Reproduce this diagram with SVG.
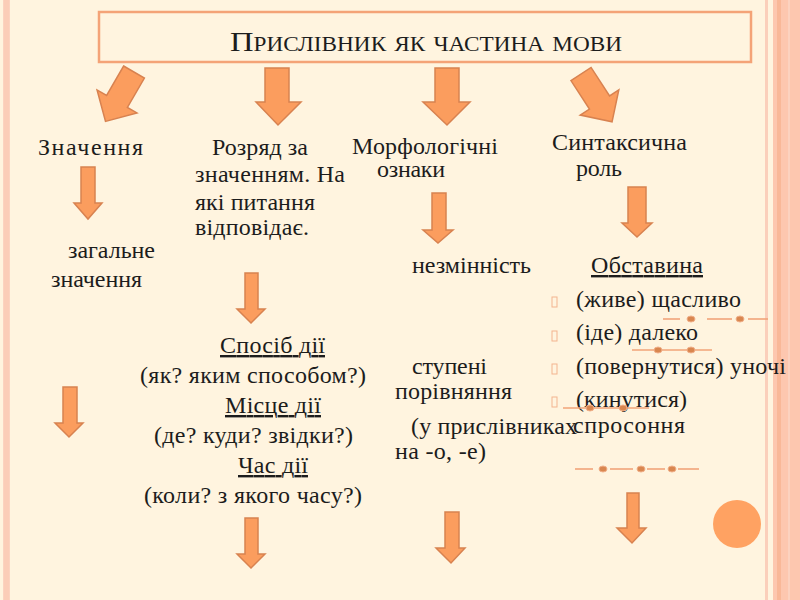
<svg xmlns="http://www.w3.org/2000/svg" width="800" height="600" viewBox="0 0 800 600">
<defs>
<style>
.t{font-family:"Liberation Serif","Times New Roman",serif;font-size:24px;fill:#1c1c1c}
.u{text-decoration:underline}
.arr{fill:#FB9D5E;stroke:#D88250;stroke-width:1.5;stroke-linejoin:miter}
.dl{stroke:#F2A479;stroke-width:1.6}
.dot{fill:#D9864F;stroke:#F0B08A;stroke-width:1}
.bul{fill:none;stroke:#F3B48F;stroke-width:1}
</style>
</defs>
<rect x="0" y="0" width="800" height="600" fill="#FFF4DF"/>
<rect x="3" y="0" width="7" height="600" fill="#FCD3C0"/>
<rect x="4" y="0" width="5" height="600" fill="#FBCDB8"/>
<rect x="765" y="0" width="3" height="600" fill="#FBCFBB"/>
<rect x="773" y="0" width="27" height="600" fill="#FDC7AF"/>
<rect x="777" y="0" width="4" height="600" fill="#F9B898"/>
<rect x="788" y="0" width="2" height="600" fill="#FCD2BF"/>

<g id="title">
<rect x="99" y="12" width="652" height="50" fill="#FFF4DF" stroke="#F4A377" stroke-width="2.5"/>
<text x="230" y="51" font-family="Liberation Serif, serif" font-size="28" fill="#1c1c1c" style="font-variant:small-caps" textLength="392" lengthAdjust="spacingAndGlyphs">Прислівник як частина мови</text>
</g>

<g id="connectors">
<path class="arr" d="M-12,0 H12 V34 H23 L0,57 L-23,34 H-12 Z" transform="translate(134,72) rotate(30)"/>
<path class="arr" d="M265,68 H289 V102 H301 L278,125 L256,102 H265 Z"/>
<path class="arr" d="M435,68 H459 V102 H470 L447,125 L423,102 H435 Z"/>
<path class="arr" d="M-12,0 H12 V34 H23 L0,57 L-23,34 H-12 Z" transform="translate(581,74) rotate(-33)"/>
<path class="arr" d="M81,167 H95 V203 H102 L88,219 L74,203 H81 Z"/>
<path class="arr" d="M245,273 H258 V309 H265 L251,323 L237,309 H245 Z"/>
<path class="arr" d="M63,387 H77 V423 H83 L69,437 L55,423 H63 Z"/>
<path class="arr" d="M245,518 H258 V554 H265 L251,568 L237,554 H245 Z"/>
<path class="arr" d="M432,193 H446 V230 H453 L438,243 L423,230 H432 Z"/>
<path class="arr" d="M628,187 H646 V223 H652 L637,237 L622,223 H628 Z"/>
<path class="arr" d="M445,512 H459 V548 H465 L451,563 L436,548 H445 Z"/>
<path class="arr" d="M627,493 H639 V528 H646 L632,543 L617,528 H627 Z"/>
</g>

<g id="znachennia">
<text class="t" x="38" y="155" textLength="105">Значення</text>
<text class="t" x="68" y="258" textLength="87">загальне</text>
<text class="t" x="51" y="287" textLength="91">значення</text>
</g>

<g id="rozriad">
<text class="t" x="212" y="155" textLength="96">Розряд за</text>
<text class="t" x="195" y="182" textLength="150">значенням. На</text>
<text class="t" x="195" y="210" textLength="120">які питання</text>
<text class="t" x="195" y="235" textLength="114">відповідає.</text>
</g>

<g id="rozriad-details">
<text class="t u" x="220" y="353" textLength="105">Спосіб дії</text>
<text class="t" x="140" y="383" textLength="226">(як? яким способом?)</text>
<text class="t u" x="225" y="413" textLength="96">Місце дії</text>
<text class="t" x="154" y="443" textLength="199">(де? куди? звідки?)</text>
<text class="t u" x="238" y="473" textLength="70">Час дії</text>
<text class="t" x="144" y="503" textLength="218">(коли? з якого часу?)</text>
</g>

<g id="morf">
<text class="t" x="352" y="154" textLength="146">Морфологічні</text>
<text class="t" x="377" y="177" textLength="68">ознаки</text>
<text class="t" x="412" y="273" textLength="119">незмінність</text>
<text class="t" x="412" y="374" textLength="75">ступені</text>
<text class="t" x="395" y="399" textLength="117">порівняння</text>
<text class="t" x="411" y="434" textLength="166">(у прислівниках</text>
<text class="t" x="395" y="459" textLength="91">на -о, -е)</text>
</g>

<g id="synt">
<text class="t" x="552" y="150" textLength="135">Синтаксична</text>
<text class="t" x="576" y="176" textLength="46">роль</text>
<text class="t u" x="591" y="273" textLength="112">Обставина</text>
<rect class="bul" x="552" y="297" width="5" height="10"/>
<rect class="bul" x="552" y="331" width="5" height="10"/>
<rect class="bul" x="552" y="364" width="5" height="10"/>
<rect class="bul" x="552" y="397" width="5" height="10"/>
<text class="t" x="576" y="307" textLength="165">(живе) щасливо</text>
<text class="t" x="576" y="340" textLength="122">(іде) далеко</text>
<text class="t" x="576" y="374" textLength="210">(повернутися) уночі</text>
<text class="t" x="576" y="407" textLength="111">(кинутися)</text>
<text class="t" x="573" y="433" textLength="112">спросоння</text>
</g>

<g id="decor">
<line class="dl" x1="663" y1="319" x2="680" y2="319"/>
<line class="dl" x1="707" y1="319" x2="732" y2="319"/>
<line class="dl" x1="748" y1="319" x2="768" y2="319"/>
<ellipse class="dot" cx="691" cy="319" rx="4" ry="3"/>
<ellipse class="dot" cx="740" cy="319" rx="4" ry="3"/>
<line class="dl" x1="632" y1="350" x2="712" y2="350"/>
<ellipse class="dot" cx="658" cy="350" rx="4" ry="3"/>
<ellipse class="dot" cx="691" cy="350" rx="4" ry="3"/>
<line class="dl" x1="563" y1="408" x2="649" y2="408"/>
<ellipse class="dot" cx="590" cy="408" rx="4" ry="3"/>
<ellipse class="dot" cx="623" cy="408" rx="4" ry="3"/>
<line class="dl" x1="575" y1="469" x2="593" y2="469"/>
<line class="dl" x1="610" y1="469" x2="633" y2="469"/>
<line class="dl" x1="647" y1="469" x2="665" y2="469"/>
<line class="dl" x1="678" y1="469" x2="699" y2="469"/>
<ellipse class="dot" cx="603" cy="469" rx="4" ry="3"/>
<ellipse class="dot" cx="641" cy="469" rx="4" ry="3"/>
<ellipse class="dot" cx="672" cy="469" rx="4" ry="3"/>
<circle cx="737" cy="524" r="24" fill="#FFA262"/>
</g>
</svg>
